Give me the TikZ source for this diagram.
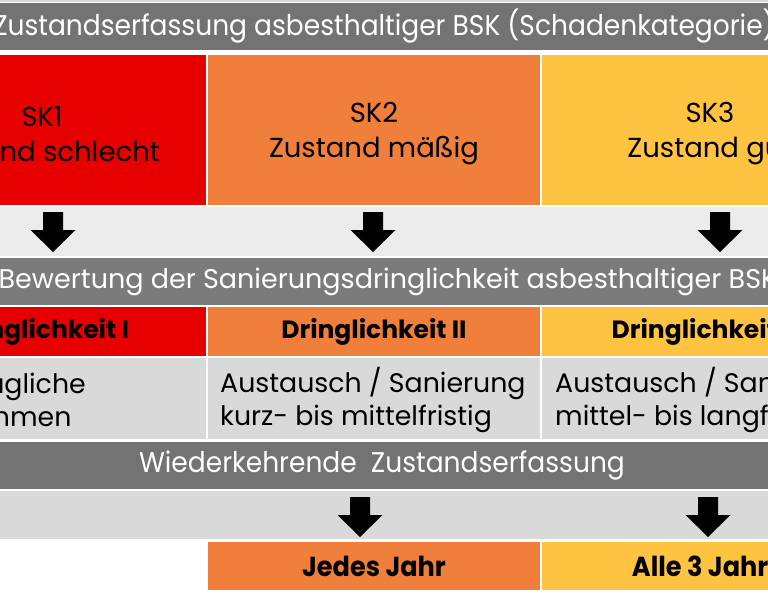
\documentclass[tikz,border=0pt]{standalone}
\usepackage{fontspec}
\setmainfont{Poppins}
\newfontfamily\condfont[FakeStretch=0.93]{Poppins}
\definecolor{skred}{HTML}{E60000}
\definecolor{skorange}{HTML}{F07F3C}
\definecolor{skyellow}{HTML}{FFC342}
\definecolor{headgray}{HTML}{737373}
\definecolor{headgraylt}{HTML}{7B7B7B}
\definecolor{bandgray}{HTML}{EBEBEB}
\definecolor{rowgray}{HTML}{D9D9D9}

\tikzset{
  cell/.style={inner sep=0pt, minimum width=332pt, text=black, align=center,
    font=\fontsize{27.5}{35}\selectfont},
  celltext/.style={inner sep=0pt, align=center, font=\fontsize{27.5}{35}\selectfont},
  headbar/.style={inner sep=0pt, minimum width=1000pt, minimum height=47pt,
    fill=headgray, text=white, font=\condfont\fontsize{28.5}{30}\selectfont},
  band/.style={inner sep=0pt, minimum width=1000pt, minimum height=49pt},
  skcell/.style={cell, minimum height=150pt},
  drcell/.style={cell, minimum height=49pt, font=\bfseries\fontsize{25}{30}\selectfont},
  txcell/.style={cell, minimum height=81pt, fill=rowgray},
  txtext/.style={inner sep=0pt, anchor=west, align=left, font=\fontsize{26.8}{33}\selectfont},
  btcell/.style={cell, minimum height=48pt, font=\condfont\bfseries\fontsize{27.5}{30}\selectfont},
}

% block arrow, tip down, (#1,#2) = top of shaft
\newcommand{\blockdown}[2]{%
  \fill[black] (#1-10,#2) -- (#1+10,#2) -- (#1+10,#2+18) -- (#1+22.5,#2+18)
    -- (#1,#2+40) -- (#1-22.5,#2+18) -- (#1-10,#2+18) -- cycle;}

\begin{document}
\begin{tikzpicture}[x=1pt, y=-1pt]
  \useasboundingbox (0,0) rectangle (768,600);
  \clip (0,0) rectangle (768,600);
  \fill[white] (0,0) rectangle (768,600);
  \draw[rowgray, line width=2pt] (0,1) -- (768,1);

  % Zustandserfassung
  \node[headbar] (head1) at (384,26.5) {Zustandserfassung asbesthaltiger BSK (Schadenkategorie)};
  \node[skcell, fill=skred] (sk1) at (40,130) {};
  \node[skcell, fill=skorange] (sk2) at (374,130) {};
  \node[skcell, fill=skyellow] (sk3) at (708,130) {};
  \node[celltext] (sk1t) at (42,134) {SK1\\Zustand schlecht};
  \node[celltext] (sk2t) at (374,134) {SK2\\Zustand mäßig};
  \node[celltext] (sk3t) at (710,134) {SK3\\Zustand gut};

  % Arrows
  \node[band, fill=bandgray] (band1) at (374,231.5) {};
  \blockdown{53}{212}
  \blockdown{373}{212}
  \blockdown{720}{212}

  % Bewertung
  \node[headbar, fill=headgraylt, font=\fontsize{27}{30}\selectfont] (head2) at (388,281.5)
    {Bewertung der Sanierungsdringlichkeit asbesthaltiger BSK};
  \node[drcell, fill=skred] (dr1) at (40,331.5) {Dringlichkeit I};
  \node[drcell, fill=skorange] (dr2) at (374,331.5) {Dringlichkeit II};
  \node[drcell, fill=skyellow] (dr3) at (708,331.5) {Dringlichkeit III};
  \node[txcell] (tx1) at (40,398.5) {};
  \node[txcell] (tx2) at (374,398.5) {};
  \node[txcell] (tx3) at (708,398.5) {};
  \node[txtext] (tx1t) at (-102,400) {Unverzügliche\\Maßnahmen};
  \node[txtext] (tx2t) at (220,400) {Austausch / Sanierung\\kurz- bis mittelfristig};
  \node[txtext] (tx3t) at (555,400) {Austausch / Sanierung\\mittel- bis langfristig};

  % Wiederkehrende Zustandserfassung
  \node[headbar] (head3) at (382,465) {Wiederkehrende\ \ Zustandserfassung};
  \node[band, fill=rowgray, minimum height=48pt] (band4) at (374,515) {};
  \blockdown{360}{497}
  \blockdown{708}{497}
  \node[btcell, fill=skorange] (bt2) at (374,566) {Jedes Jahr};
  \node[btcell, fill=skyellow] (bt3) at (708,566) {Alle 3 Jahre};
\end{tikzpicture}
\end{document}
